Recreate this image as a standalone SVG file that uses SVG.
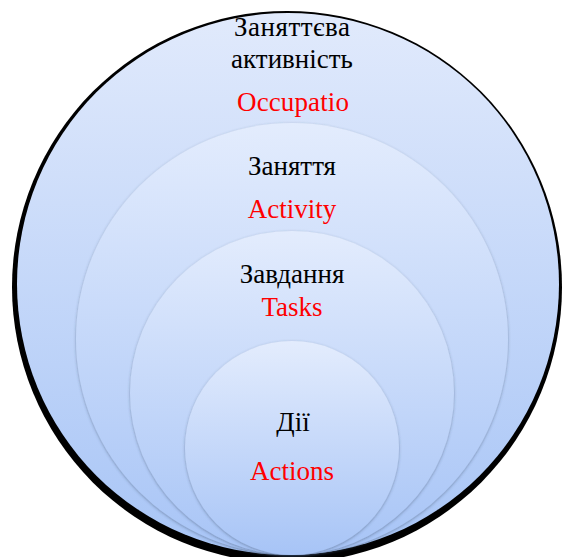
<svg xmlns="http://www.w3.org/2000/svg" width="563" height="557" viewBox="0 0 563 557">
  <style>
    .lbl { font-family: "Liberation Serif", "DejaVu Serif", serif; font-size: 27px; text-anchor: middle; }
    .ua { fill: #000000; }
    .en { fill: #ff0000; }
    .ring { filter: url(#soft); }
  </style>
  <defs>
    <linearGradient id="gOuter" x1="0" y1="0" x2="0" y2="1">
      <stop offset="0" stop-color="#e1eafc"/>
      <stop offset="1" stop-color="#a8c5f6"/>
    </linearGradient>
    <linearGradient id="gInner" x1="0" y1="0" x2="0" y2="1">
      <stop offset="0" stop-color="#e3ecfd"/>
      <stop offset="1" stop-color="#a7c4f6"/>
    </linearGradient>
    <filter id="soft" x="-10%" y="-10%" width="120%" height="120%">
      <feDropShadow dx="0" dy="1" stdDeviation="1.8" flood-color="#34445f" flood-opacity="0.45"/>
    </filter>
    <filter id="blur1" x="-5%" y="-5%" width="110%" height="110%">
      <feGaussianBlur stdDeviation="0.6"/>
    </filter>
  </defs>

  <g id="occupation">
    <ellipse cx="287" cy="287" rx="275" ry="276" fill="#000000" filter="url(#blur1)"/>
    <ellipse cx="288" cy="284" rx="271" ry="271" fill="url(#gOuter)"/>
    <text class="lbl ua" x="292" y="36" textLength="116" lengthAdjust="spacing">Заняттєва</text>
    <text class="lbl ua" x="292" y="68">активність</text>
    <text class="lbl en" x="293" y="111" textLength="112" lengthAdjust="spacing">Occupatio</text>
  </g>

  <g id="activity">
    <circle class="ring" cx="292" cy="339" r="216" fill="url(#gInner)"/>
    <text class="lbl ua" x="292" y="175">Заняття</text>
    <text class="lbl en" x="292" y="218">Activity</text>
  </g>

  <g id="tasks">
    <circle class="ring" cx="292" cy="393" r="162" fill="url(#gInner)"/>
    <text class="lbl ua" x="292" y="283">Завдання</text>
    <text class="lbl en" x="292" y="316">Tasks</text>
  </g>

  <g id="actions">
    <circle class="ring" cx="292" cy="448" r="107" fill="url(#gInner)"/>
    <text class="lbl ua" x="293" y="431">Дії</text>
    <text class="lbl en" x="292" y="480">Actions</text>
  </g>

  <g id="connectors"></g>
</svg>
